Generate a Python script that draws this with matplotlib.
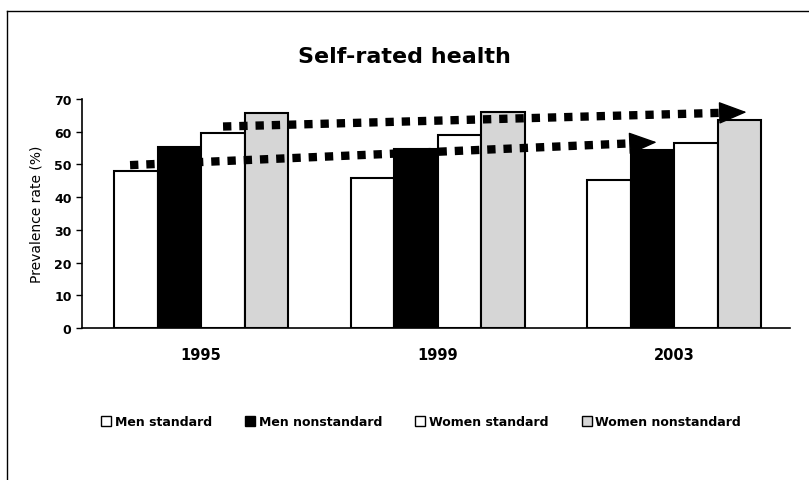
import numpy as np
import matplotlib
matplotlib.use('Agg')
import matplotlib.pyplot as plt
from matplotlib.patches import Patch

years = ['1995', '1999', '2003']
series = ['Men standard', 'Men nonstandard', 'Women standard', 'Women nonstandard']
men_std = [48.1, 45.9, 45.4]
men_nonstd = [55.3, 54.7, 54.5]
women_std = [59.6, 59.1, 56.5]
women_nonstd = [65.7, 66.1, 63.7]

# trend arrows (start x, start y, tip x, tip y) in data units
arrow_low = [-0.30, 49.8, 1.926, 56.8]
arrow_high = [0.093, 61.6, 2.306, 66.0]

colors = ['white', 'black', 'white', '#d6d6d6']

fig = plt.figure(figsize=(8.09, 4.81), dpi=100)
ax = fig.add_axes([0.1014, 0.316, 0.875, 0.476])

x = np.arange(len(years))
w = 0.184
for i, vals in enumerate([men_std, men_nonstd, women_std, women_nonstd]):
    ax.bar(x + (i - 1.5) * w, vals, w, color=colors[i], edgecolor='black',
           linewidth=1.5, label=series[i], zorder=2)

# dotted trend arrows
for x0, y0, x1, y1 in [arrow_low, arrow_high]:
    frac = 1 - 0.106 / (x1 - x0)
    bx = x0 + (x1 - x0) * frac
    by = y0 + (y1 - y0) * frac
    ax.plot([x0, bx], [y0, by], color='black', lw=6,
            linestyle=(0, (1, 0.95)), zorder=3)
    ax.annotate('', xy=(x1, y1), xytext=(bx, by),
                arrowprops=dict(arrowstyle='-|>,head_length=1.8,head_width=0.72',
                                mutation_scale=10, color='black', lw=1,
                                shrinkA=0, shrinkB=0), zorder=4)

ax.set_xlim(-0.503, 2.489)
ax.set_ylim(0, 70)
ax.set_yticks(range(0, 71, 10))
ax.set_xticks(x)
ax.set_xticklabels(years, fontsize=10.5, fontweight='bold')
ax.tick_params(axis='x', length=0, pad=14)
ax.tick_params(axis='y', length=4, direction='out', labelsize=9, width=1)
for lab in ax.get_yticklabels():
    lab.set_fontweight('bold')
ax.spines['top'].set_visible(False)
ax.spines['right'].set_visible(False)
ax.spines['left'].set_linewidth(1.2)
ax.spines['bottom'].set_linewidth(1.2)
ax.set_ylabel('Prevalence rate (%)', fontsize=10, labelpad=8)

fig.text(0.5, 1 - 57 / 481, 'Self-rated health', ha='center', va='center',
         fontsize=16, fontweight='bold')

handles = [Patch(facecolor=colors[i], edgecolor='black', linewidth=1, label=series[i])
           for i in range(4)]
fig.legend(handles=handles, loc='center', bbox_to_anchor=(421 / 809, 1 - 423 / 481),
           ncol=4, frameon=False, prop={'size': 9, 'weight': 'bold'},
           handlelength=0.8, handleheight=0.8, handletextpad=0.3, columnspacing=2.65)

# outer frame (left and top only)
fig.add_artist(plt.Line2D([7 / 809, 7 / 809], [0, 1 - 12 / 481], color='black', lw=1,
                          transform=fig.transFigure))
fig.add_artist(plt.Line2D([7 / 809, 1], [1 - 12 / 481, 1 - 12 / 481], color='black', lw=1,
                          transform=fig.transFigure))

fig.savefig('out.png', dpi=100)
